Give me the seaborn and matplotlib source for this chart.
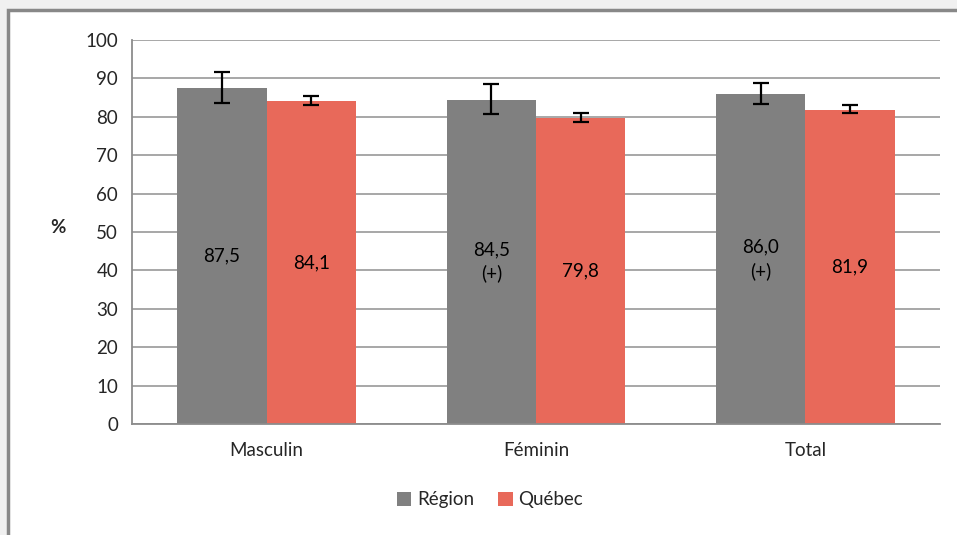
import matplotlib
matplotlib.use("Agg")
import matplotlib.pyplot as plt
import matplotlib.patches as mpatches
import seaborn as sns
import pandas as pd
import numpy as np

categories = ["Masculin", "Féminin", "Total"]
series = ["Région", "Québec"]
region_values = [87.5, 84.5, 86.0]
quebec_values = [84.1, 79.8, 81.9]
region_low = [83.5, 80.8, 83.3]
region_high = [91.6, 88.5, 88.9]
quebec_low = [83.0, 78.6, 81.1]
quebec_high = [85.5, 81.1, 83.0]
region_labels = ["87,5", "84,5\n(+)", "86,0\n(+)"]
quebec_labels = ["84,1", "79,8", "81,9"]
y_ticks = [0, 10, 20, 30, 40, 50, 60, 70, 80, 90, 100]
colors = ["#808080", "#E8695A"]

sns.set_style("white")
plt.rcParams['font.family'] = ['Lato', 'DejaVu Sans']
FS = 13.5

df = pd.DataFrame({
    "cat": categories * 2,
    "serie": [series[0]] * 3 + [series[1]] * 3,
    "val": region_values + quebec_values,
})

fig = plt.figure(figsize=(9.57, 5.35), dpi=100)
fig.patch.set_facecolor("#F0F0F0")
bg = mpatches.Rectangle((8 / 957, -0.1), 1.2, 1 - 10 / 535 + 0.1,
                        transform=fig.transFigure, facecolor="white",
                        edgecolor="#888888", linewidth=2.5, zorder=-10)
fig.patches.append(bg)

ax = fig.add_axes([132 / 957, 1 - 424 / 535, (940 - 132) / 957, (424 - 40) / 535])
ax.set_facecolor("none")

sns.barplot(data=df, x="cat", y="val", hue="serie", palette=colors, saturation=1,
            width=0.663, gap=0, errorbar=None, ax=ax, zorder=2,
            edgecolor="none", linewidth=0)

bars = [p for p in ax.patches if p.get_height() > 0][:6]
lows = region_low + quebec_low
highs = region_high + quebec_high
labels = region_labels + quebec_labels
vals = region_values + quebec_values
for p, lo, hi, lab, v in zip(bars, lows, highs, labels, vals):
    cx = p.get_x() + p.get_width() / 2
    ax.errorbar([cx], [v], yerr=[[v - lo], [hi - v]], fmt="none",
                ecolor="black", elinewidth=1.6, capsize=5.5, capthick=1.6, zorder=4)
    ax.text(cx, v / 2, lab, ha="center", va="center", fontsize=FS,
            color="black", linespacing=1.45, zorder=5)

ax.set_ylim(0, 100)
ax.set_xlim(-0.5, 2.5)
ax.set_yticks(y_ticks)
ax.set_yticklabels([str(t) for t in y_ticks], fontsize=FS)
ax.yaxis.grid(True, color="#A0A0A0", linewidth=1.3, zorder=0)
ax.set_axisbelow(True)
ax.set_xticks([0, 1, 2])
ax.set_xticklabels(categories, fontsize=FS)
ax.tick_params(axis="x", length=0, pad=13)
ax.set_xticks([-0.5, 0.5, 1.5, 2.5], minor=True)
ax.tick_params(axis="x", which="minor", length=6, width=1.3, color="#8C8C8C", direction="out")
ax.tick_params(axis="y", length=6, width=1.3, color="#8C8C8C", direction="out", pad=4)
for s in ["top", "right"]:
    ax.spines[s].set_visible(False)
for s in ["left", "bottom"]:
    ax.spines[s].set_color("#8C8C8C")
    ax.spines[s].set_linewidth(1.3)

ax.set_xlabel("")
ax.set_ylabel("%", fontsize=FS, fontweight="bold", rotation=0, labelpad=0)
ax.yaxis.set_label_coords(-0.092, 0.49)

ax.legend_.remove()
handles = [mpatches.Patch(facecolor=c, edgecolor="none", label=s) for c, s in zip(colors, series)]
fig.legend(handles=handles, loc="center", bbox_to_anchor=(490 / 957, 1 - 500 / 535),
           ncol=2, frameon=False, fontsize=FS, handlelength=0.75, handleheight=0.75,
           handletextpad=0.3, columnspacing=1.3)

fig.savefig("out.png", dpi=100, facecolor=fig.get_facecolor())
